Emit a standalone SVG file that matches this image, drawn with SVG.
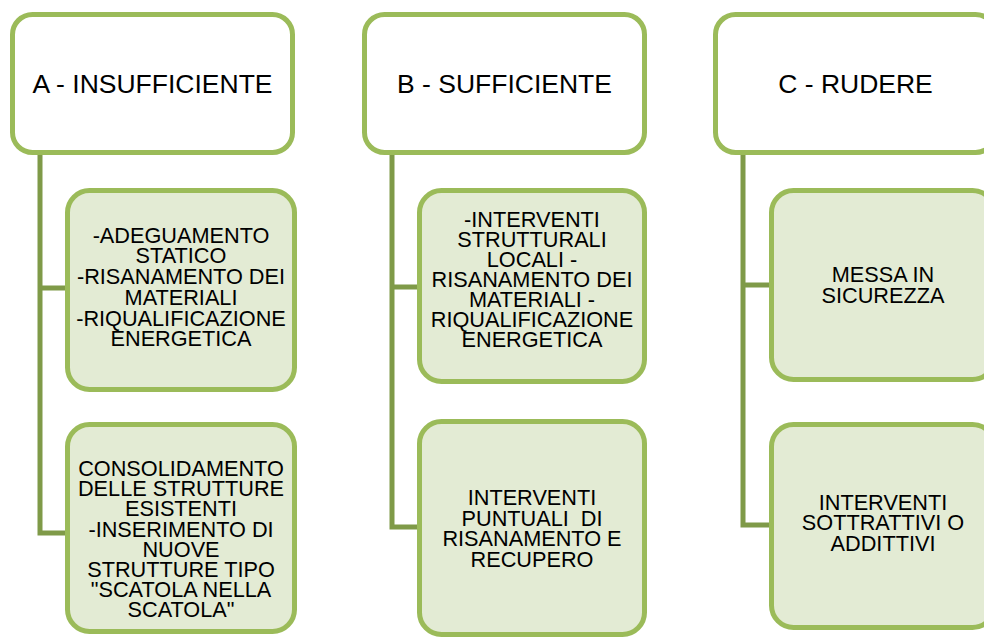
<svg xmlns="http://www.w3.org/2000/svg" width="984" height="639" viewBox="0 0 984 639">
<style>
.hdr{fill:#ffffff;stroke:#9bbb59;stroke-width:5}
.box{fill:#e3ebd4;stroke:#9bbb59;stroke-width:5}
.con{fill:none;stroke:#7f9a48;stroke-width:5;stroke-linejoin:miter}
.ht{font-family:"Liberation Sans",Arial,sans-serif;font-size:26.5px;fill:#000;text-anchor:middle}
.bt{font-family:"Liberation Sans",Arial,sans-serif;font-size:21.7px;fill:#000;text-anchor:middle;white-space:pre}
</style>
<rect width="984" height="639" fill="#ffffff"/>
<g id="connectors">
<path class="con" d="M40,155 V533 H68 M40,288 H68"/>
<path class="con" d="M392,155 V527 H420 M392,287 H420"/>
<path class="con" d="M743,155 V525 H772 M743,285 H772"/>
</g>
<g id="headerA">
<rect class="hdr" x="12.5" y="14.5" width="280" height="138" rx="20"/>
<text class="ht" x="152.5" y="93">A - INSUFFICIENTE</text>
</g>
<g id="headerB">
<rect class="hdr" x="364.5" y="14.5" width="280" height="138" rx="20"/>
<text class="ht" x="504.5" y="93">B - SUFFICIENTE</text>
</g>
<g id="headerC">
<rect class="hdr" x="715.5" y="14.5" width="280" height="138" rx="20"/>
<text class="ht" x="855.5" y="93">C - RUDERE</text>
</g>
<g id="A1">
<rect class="box" x="67.5" y="190.5" width="227" height="199" rx="22"/>
<text class="bt" x="181" y="242.7"><tspan x="181">-ADEGUAMENTO</tspan><tspan x="181" dy="20.7">STATICO</tspan><tspan x="181" dy="20.7">-RISANAMENTO DEI</tspan><tspan x="181" dy="20.7">MATERIALI</tspan><tspan x="181" dy="20.7">-RIQUALIFICAZIONE</tspan><tspan x="181" dy="20.7">ENERGETICA</tspan></text>
</g>
<g id="A2">
<rect class="box" x="67.5" y="424.5" width="227" height="207" rx="22"/>
<text class="bt" x="181" y="476"><tspan x="181">CONSOLIDAMENTO</tspan><tspan x="181" dy="20.2">DELLE STRUTTURE</tspan><tspan x="181" dy="20.2">ESISTENTI</tspan><tspan x="181" dy="20.2">-INSERIMENTO DI</tspan><tspan x="181" dy="20.2">NUOVE</tspan><tspan x="181" dy="20.2">STRUTTURE TIPO</tspan><tspan x="181" dy="20.2">"SCATOLA NELLA</tspan><tspan x="181" dy="20.2">SCATOLA"</tspan></text>
</g>
<g id="B1">
<rect class="box" x="419.5" y="190.5" width="225" height="191" rx="22"/>
<text class="bt" x="532" y="226.7"><tspan x="532">-INTERVENTI</tspan><tspan x="532" dy="20.1">STRUTTURALI</tspan><tspan x="532" dy="20.1">LOCALI -</tspan><tspan x="532" dy="20.1">RISANAMENTO DEI</tspan><tspan x="532" dy="20.1">MATERIALI -</tspan><tspan x="532" dy="20.1">RIQUALIFICAZIONE</tspan><tspan x="532" dy="20.1">ENERGETICA</tspan></text>
</g>
<g id="B2">
<rect class="box" x="419.5" y="421.5" width="225" height="213" rx="22"/>
<text class="bt" x="532" y="505" xml:space="preserve"><tspan x="532">INTERVENTI</tspan><tspan x="532" dy="20.5">PUNTUALI  DI</tspan><tspan x="532" dy="20.5">RISANAMENTO E</tspan><tspan x="532" dy="20.5">RECUPERO</tspan></text>
</g>
<g id="C1">
<rect class="box" x="771.5" y="190.5" width="223" height="189" rx="22"/>
<text class="bt" x="883" y="281.7"><tspan x="883">MESSA IN</tspan><tspan x="883" dy="21">SICUREZZA</tspan></text>
</g>
<g id="C2">
<rect class="box" x="771.5" y="424.5" width="223" height="203" rx="22"/>
<text class="bt" x="883" y="510"><tspan x="883">INTERVENTI</tspan><tspan x="883" dy="20.4">SOTTRATTIVI O</tspan><tspan x="883" dy="20.4">ADDITTIVI</tspan></text>
</g>
</svg>
